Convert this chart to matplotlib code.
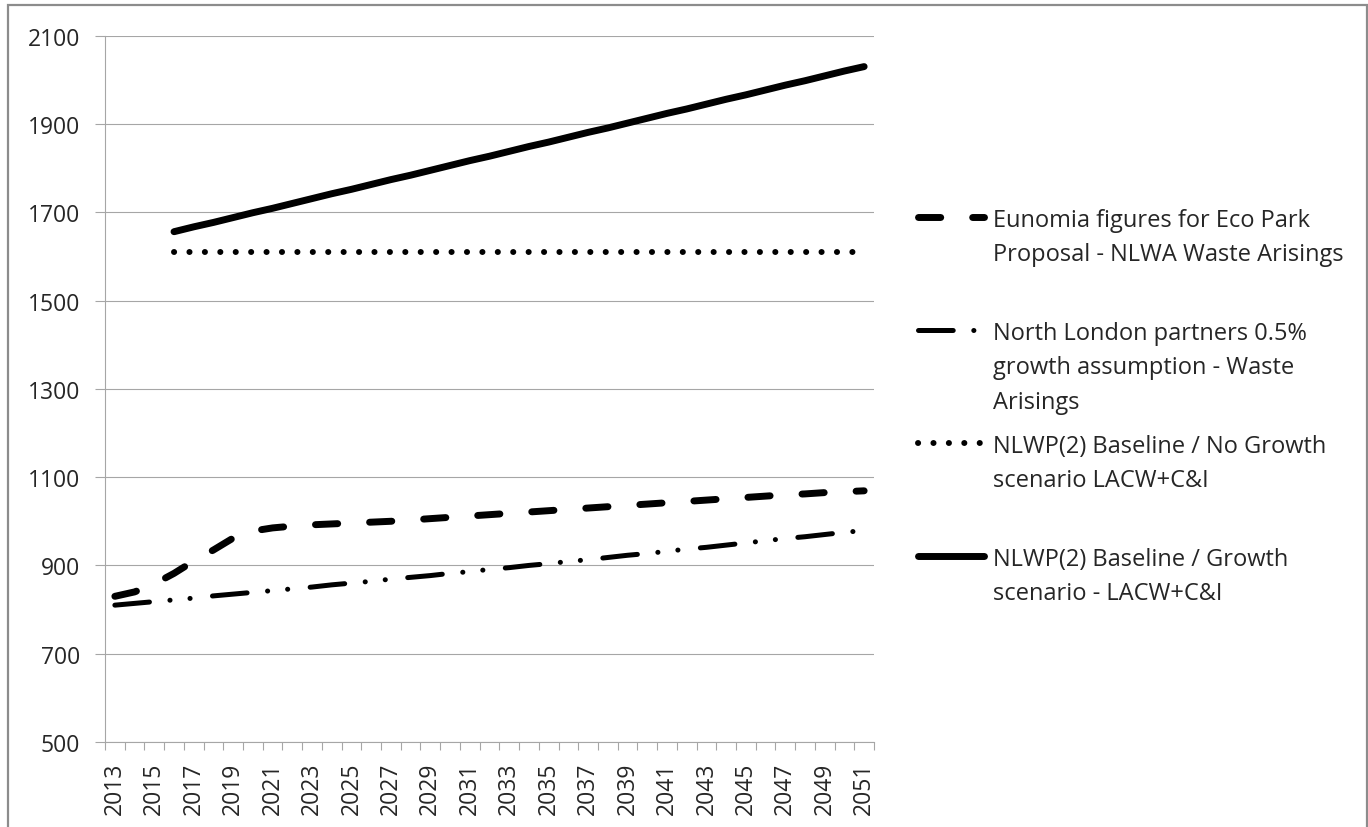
import matplotlib
matplotlib.use('Agg')
from matplotlib import pyplot as plt
from matplotlib.patches import Rectangle

plt.rcParams['font.family'] = ['Open Sans', 'DejaVu Sans']
plt.rcParams['lines.scale_dashes'] = False

years = list(range(2013, 2052))

eunomia = [830, 840, 858, 882, 910, 935, 962, 978, 985, 989,
           992, 994, 996, 998, 1000, 1003, 1006, 1009, 1012, 1015,
           1018, 1021, 1024, 1027, 1030, 1033, 1036, 1039, 1042, 1045,
           1048, 1051, 1054, 1057, 1060, 1062, 1065, 1067, 1069]

north_london = [810, 814, 818, 822, 826, 831, 835, 839, 843, 847,
                851, 856, 860, 864, 869, 873, 877, 882, 886, 891,
                895, 900, 904, 909, 913, 918, 923, 927, 932, 937,
                941, 946, 951, 956, 961, 965, 970, 975, 979]

years_2016 = list(range(2016, 2052))
no_growth = [1609] * len(years_2016)
growth = [1656, 1667, 1677, 1688, 1699, 1709, 1720, 1731, 1742, 1752,
          1763, 1774, 1784, 1795, 1806, 1817, 1827, 1838, 1849, 1859,
          1870, 1881, 1891, 1902, 1913, 1924, 1934, 1945, 1956, 1966,
          1977, 1988, 1998, 2009, 2020, 2030]

labels = ['Eunomia figures for Eco Park\nProposal - NLWA Waste Arisings',
          'North London partners 0.5%\ngrowth assumption - Waste\nArisings',
          'NLWP(2) Baseline / No Growth\nscenario LACW+C&I',
          'NLWP(2) Baseline / Growth\nscenario - LACW+C&I']

grey = '#a6a6a6'
txt = '#262626'

styles = [
    dict(lw=5, dashes=(16, 23), dash_capstyle='round'),
    dict(lw=3.6, dashes=(25, 14.8, 0.1, 14.4, 0.1, 16.2), dash_capstyle='round'),
    dict(lw=4.3, dashes=(0.1, 11), dash_capstyle='round'),
    dict(lw=5, solid_capstyle='round'),
]

fig = plt.figure(figsize=(13.68, 8.28), dpi=100)
ax = fig.add_axes([105/1368, 1-743/828, (874-105)/1368, (743-36.7)/828])

ax.plot(years, eunomia, color='black', **styles[0])
ax.plot(years, north_london, color='black', **styles[1])
ax.plot(years_2016, no_growth, color='black', **styles[2])
ax.plot(years_2016, growth, color='black', **styles[3])

ax.set_xlim(2012.5, 2051.5)
ax.set_ylim(500, 2100)
ax.set_yticks(range(500, 2101, 200))
ax.set_xticks(years[::2])
ax.set_xticks([y - 0.5 for y in years] + [2051.5], minor=True)
ax.tick_params(axis='x', which='major', length=0, labelrotation=90, labelsize=16.5, colors=txt, pad=14)
ax.tick_params(axis='x', which='minor', length=6, color=grey, width=0.8)
ax.tick_params(axis='y', length=7, color=grey, width=0.8, labelsize=16.5, colors=txt, pad=11)
ax.grid(axis='y', color=grey, linewidth=0.8)
ax.set_axisbelow(True)
for s in ['top', 'right']:
    ax.spines[s].set_visible(False)
for s in ['left', 'bottom']:
    ax.spines[s].set_color(grey)
    ax.spines[s].set_linewidth(0.8)

# legend drawn by hand in pixel space
lax = fig.add_axes([0, 0, 1, 1])
lax.set_xlim(0, 1368)
lax.set_ylim(828, 0)
lax.axis('off')
handle_y = [218, 331, 444, 557]
for lab, st, hy in zip(labels, styles, handle_y):
    lax.plot([918, 984], [hy, hy], color='black', **st)
    lax.text(993, hy - 9, lab, fontsize=17, color=txt, va='top', ha='left', linespacing=1.58)

fig.add_artist(Rectangle((8/1368, -0.05), (1367-8)/1368, 1.05 - 6/828, transform=fig.transFigure,
                         fill=False, edgecolor='#8c8c8c', linewidth=1.6))

plt.savefig('out.png', dpi=100)
